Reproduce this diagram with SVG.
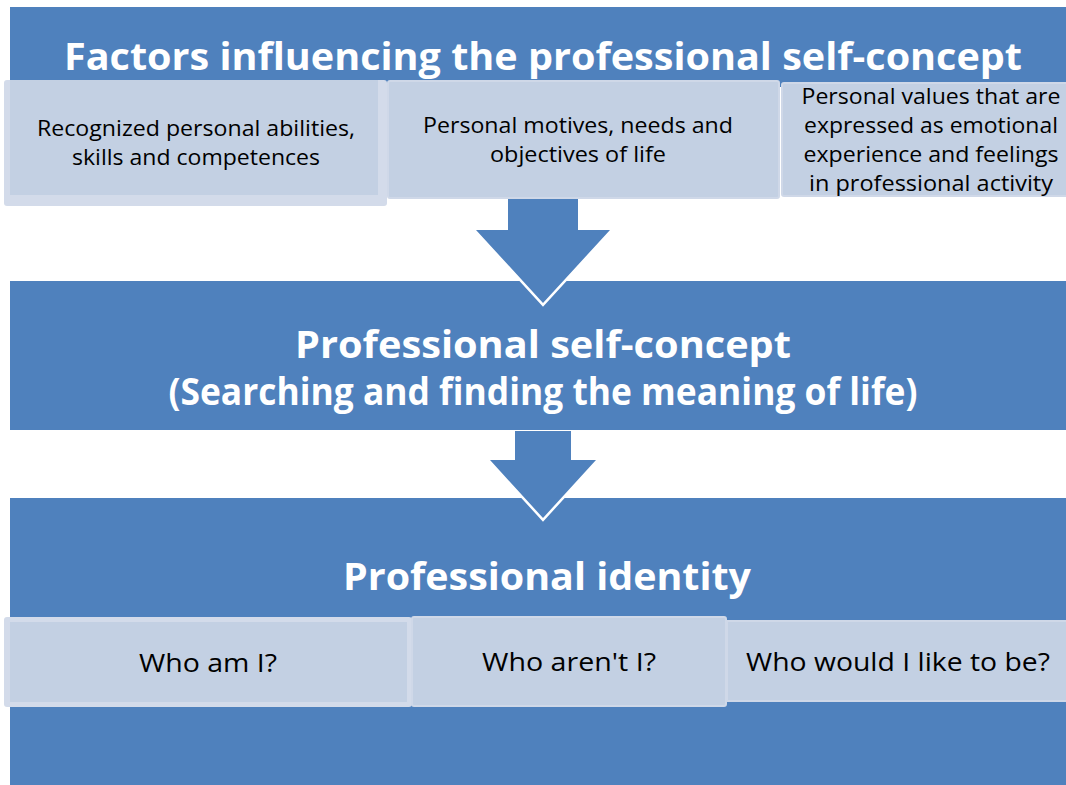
<svg xmlns="http://www.w3.org/2000/svg" width="1066" height="785" viewBox="0 0 1066 785">
<style>
.band{fill:#4f81bd}
.outer{fill:#d3dbea}
.inner{fill:#c3d0e3}
.box{fill:#c3d0e3;stroke:#cfd8e8;stroke-width:2}
.t{font-family:"Open Sans","Noto Sans","Liberation Sans",sans-serif;font-size:21px;fill:#000;text-anchor:middle}
.q{font-size:26px}
.h{font-family:"Open Sans","Noto Sans","Liberation Sans",sans-serif;font-size:38px;font-weight:bold;fill:#fff;text-anchor:middle}
.arrow{fill:#4f81bd}
.edge{fill:none;stroke:#fff;stroke-width:5;stroke-linejoin:miter;stroke-miterlimit:10}
</style>
<rect width="1066" height="785" fill="#fff"/>
<g id="band-factors">
<rect class="band" x="10" y="7" width="1056" height="80"/>
<text class="h" x="543" y="70" textLength="958" lengthAdjust="spacingAndGlyphs">Factors influencing the professional self-concept</text>
</g>
<g id="band-selfconcept">
<rect class="band" x="10" y="281" width="1056" height="149"/>
<text class="h" x="543" y="358" textLength="496" lengthAdjust="spacingAndGlyphs">Professional self-concept</text>
<text class="h" x="543" y="405" textLength="749" lengthAdjust="spacingAndGlyphs">(Searching and finding the meaning of life)</text>
</g>
<g id="band-identity">
<rect class="band" x="10" y="498" width="1056" height="287"/>
<text class="h" x="547" y="590" textLength="408" lengthAdjust="spacingAndGlyphs">Professional identity</text>
</g>
<g id="connectors">
<g id="arrow1">
<polyline class="edge" points="610,230 543,303 476,230"/>
<polygon class="arrow" points="508,198 578,198 578,230 610,230 543,303 476,230 508,230"/>
</g>
<g id="arrow2">
<polyline class="edge" points="596,460 543,518 490,460"/>
<polygon class="arrow" points="515,431 571,431 571,460 596,460 543,518 490,460 515,460"/>
</g>
</g>
<g id="factor-abilities">
<rect class="outer" x="4" y="80" width="383" height="126" rx="3"/>
<rect class="inner" x="10" y="80" width="368" height="115"/>
<text class="t" x="196" y="136" textLength="318" lengthAdjust="spacingAndGlyphs">Recognized personal abilities,</text>
<text class="t" x="196" y="165" textLength="248" lengthAdjust="spacingAndGlyphs">skills and competences</text>
</g>
<g id="factor-motives">
<rect class="box" x="388" y="81" width="391" height="117" rx="2"/>
<text class="t" x="578" y="133" textLength="310" lengthAdjust="spacingAndGlyphs">Personal motives, needs and</text>
<text class="t" x="578" y="162" textLength="176" lengthAdjust="spacingAndGlyphs">objectives of life</text>
</g>
<g id="factor-values">
<rect class="box" x="782" y="83" width="286" height="113" rx="2"/>
<text class="t" x="931" y="104" textLength="259" lengthAdjust="spacingAndGlyphs">Personal values that are</text>
<text class="t" x="931" y="133" textLength="254" lengthAdjust="spacingAndGlyphs">expressed as emotional</text>
<text class="t" x="931" y="162" textLength="255" lengthAdjust="spacingAndGlyphs">experience and feelings</text>
<text class="t" x="931" y="191" textLength="244" lengthAdjust="spacingAndGlyphs">in professional activity</text>
</g>
<g id="identity-who-am-i">
<rect class="outer" x="4" y="617" width="408" height="90" rx="3"/>
<rect class="inner" x="10" y="622" width="397" height="80"/>
<text class="t q" x="208" y="672" textLength="138" lengthAdjust="spacingAndGlyphs">Who am I?</text>
</g>
<g id="identity-who-arent-i">
<rect class="box" x="412" y="617" width="314" height="89" rx="2"/>
<text class="t q" x="569" y="671" textLength="174" lengthAdjust="spacingAndGlyphs">Who aren't I?</text>
</g>
<g id="identity-who-like-to-be">
<rect class="box" x="727" y="621" width="340" height="80"/>
<text class="t q" x="898" y="671" textLength="304" lengthAdjust="spacingAndGlyphs">Who would I like to be?</text>
</g>
</svg>
